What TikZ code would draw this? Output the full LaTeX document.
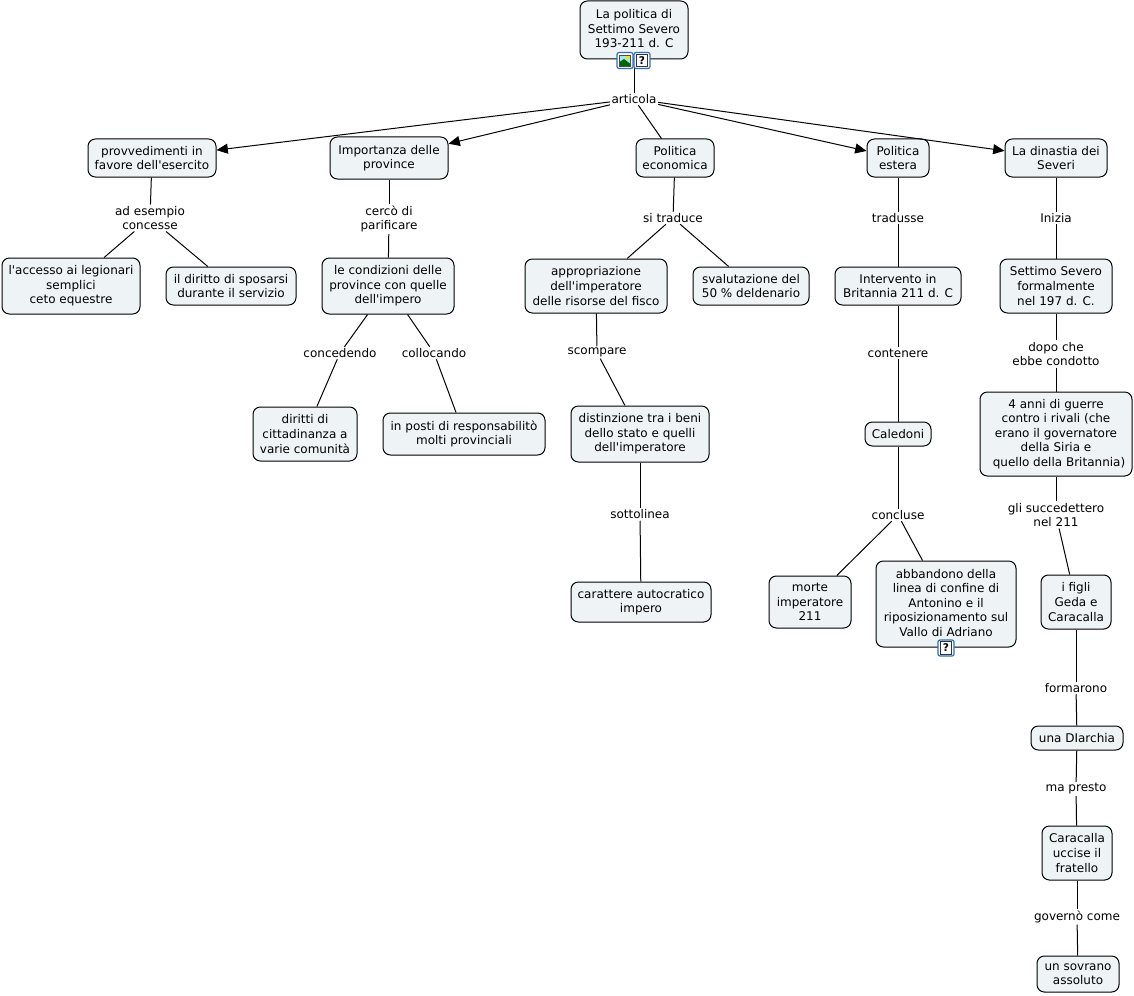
\documentclass[tikz,border=0pt]{standalone}
\usepackage{fontspec}
\setmainfont{DejaVu Sans}[Ligatures=TeXOff]
\usetikzlibrary{arrows.meta}
\definecolor{boxfill}{HTML}{EEF4F6}
\definecolor{iconblue}{HTML}{2F6FC0}
\tikzset{
  x=0.75pt,y=-0.75pt,
  concept/.style={draw=black,line width=0.75pt,fill=boxfill,rounded corners=5.5pt,inner sep=0pt,align=center,font=\fontsize{9}{10.9}\selectfont},
  linklabel/.style={inner sep=1pt,align=center,font=\fontsize{9}{10.9}\selectfont},
  link/.style={draw=black,line width=0.75pt},
  arrowlink/.style={link,-{Triangle[length=8.5pt,width=7.5pt]}},
  iconbox/.style={draw=iconblue,line width=0.9pt,fill=white,rounded corners=1.5pt,minimum width=12pt,minimum height=12pt,inner sep=0pt},
  iconpage/.style={draw=black!80,line width=0.5pt,fill=white,minimum width=8pt,minimum height=9.5pt,inner sep=0pt,font=\fontsize{8}{8}\bfseries\selectfont}
}
% #1 name, #2 x1, #3 y1, #4 x2, #5 y2, #6 text
\newcommand{\cbox}[6]{%
  \pgfmathsetmacro{\cx}{(#2+#4)/2}\pgfmathsetmacro{\cy}{(#3+#5)/2}%
  \pgfmathsetmacro{\cw}{(#4-#2)*0.75}\pgfmathsetmacro{\ch}{(#5-#3)*0.75}%
  \node[concept,minimum width=\cw pt,minimum height=\ch pt] (#1) at (\cx,\cy) {#6};}
\begin{document}
\begin{tikzpicture}
\useasboundingbox (0,0) rectangle (1134,995);
\fill[white] (0,0) rectangle (1134,995);
% link labels first, so connectors can refer to them
\node[linklabel] (Larticola) at (634,99) {articola};
\node[linklabel] (Lad) at (150,218) {ad esempio\\concesse};
\node[linklabel] (Lcerco) at (389,219) {cercò di\\parificare};
\node[linklabel] (Lconc) at (340,353) {concedendo};
\node[linklabel] (Lcoll) at (434,353) {collocando};
\node[linklabel] (Lsi) at (673,218) {si traduce};
\node[linklabel] (Lscomp) at (597,352.5) {scompare};
\node[linklabel] (Lsott) at (640,514.5) {sottolinea};
\node[linklabel] (Ltrad) at (898,218) {tradusse};
\node[linklabel] (Lcont) at (898,353) {contenere};
\node[linklabel] (Lconcl) at (898,515) {concluse};
\node[linklabel] (Lini) at (1056,218) {Inizia};
\node[linklabel] (Ldopo) at (1056,354) {dopo che\\ebbe condotto};
\node[linklabel] (Lgli) at (1056,515) {gli succedettero\\nel 211};
\node[linklabel] (Lform) at (1076,688) {formarono};
\node[linklabel] (Lma) at (1076,789) {ma presto};
\node[linklabel] (Lgov) at (1077,917) {governò come};
% concepts
\cbox{root}{580}{1}{688}{59}{La politica di\\Settimo Severo\\193-211 d. C\\[-9pt]\mbox{}}
\cbox{prov}{88}{139}{216}{177}{provvedimenti in\\favore dell'esercito}
\cbox{imp}{330}{137}{448}{179}{Importanza delle\\province}
\cbox{pol}{636}{139}{714}{177}{Politica\\economica}
\cbox{est}{867}{139}{929}{177}{Politica\\estera}
\cbox{din}{1005}{139}{1107}{177}{La dinastia dei\\Severi}
\cbox{acc}{2}{258}{140}{314}{l'accesso ai legionari\\semplici\\ceto equestre}
\cbox{dir}{166}{267}{296}{305}{il diritto di sposarsi\\durante il servizio}
\cbox{cond}{322}{258}{454}{314}{le condizioni delle\\province con quelle\\dell'impero}
\cbox{citt}{253}{407}{357}{461}{diritti di\\cittadinanza a\\varie comunità}
\cbox{posti}{383}{413}{545}{455}{in posti di responsabilitò\\molti provinciali}
\cbox{appr}{525}{259}{667}{313}{appropriazione\\dell'imperatore\\delle risorse del fisco}
\cbox{sval}{693}{267}{809}{305}{svalutazione del\\50 \% deldenario}
\cbox{dist}{571}{406}{709}{462}{distinzione tra i beni\\dello stato e quelli\\dell'imperatore}
\cbox{auto}{571}{582}{711}{622}{carattere autocratico\\impero}
\cbox{interv}{835}{267}{961}{305}{Intervento in\\Britannia 211 d. C}
\cbox{cal}{865}{422}{931}{446}{Caledoni}
\cbox{morte}{769}{576}{851}{628}{morte\\imperatore\\211}
\cbox{abb}{876}{561}{1016}{647}{abbandono della\\linea di confine di\\Antonino e il\\riposizionamento sul\\Vallo di Adriano\\[-9pt]\mbox{}}
\cbox{sett}{1000}{259}{1112}{313}{Settimo Severo\\formalmente\\nel 197 d. C.}
\cbox{anni}{980}{392}{1132}{476}{4 anni di guerre\\contro i rivali (che\\erano il governatore\\della Siria e\\\hspace*{4.5pt}quello della Britannia)}
\cbox{figli}{1041}{575}{1111}{629}{i figli\\Geda e\\Caracalla}
\cbox{diarch}{1031}{726}{1123}{750}{una DIarchia}
\cbox{uccise}{1042}{826}{1112}{880}{Caracalla\\uccise il\\fratello}
\cbox{sovr}{1037}{956}{1119}{992}{un sovrano\\assoluto}
% connectors
\draw[link] (root) -- (Larticola);
\draw[arrowlink] (Larticola) -- (prov);
\draw[arrowlink] (Larticola) -- (imp);
\draw[link] (Larticola) -- (pol);
\draw[arrowlink] (Larticola) -- (est);
\draw[arrowlink] (Larticola) -- (din);
\draw[link] (prov) -- (Lad);
\draw[link] (Lad) -- (acc);
\draw[link] (Lad) -- (dir);
\draw[link] (imp) -- (Lcerco);
\draw[link] (Lcerco) -- (cond);
\draw[link] (cond) -- (Lconc);
\draw[link] (Lconc) -- (citt);
\draw[link] (cond) -- (Lcoll);
\draw[link] (Lcoll) -- (posti);
\draw[link] (pol) -- (Lsi);
\draw[link] (Lsi) -- (appr);
\draw[link] (Lsi) -- (sval);
\draw[link] (appr) -- (Lscomp);
\draw[link] (Lscomp) -- (dist);
\draw[link] (dist) -- (Lsott);
\draw[link] (Lsott) -- (auto);
\draw[link] (est) -- (Ltrad);
\draw[link] (Ltrad) -- (interv);
\draw[link] (interv) -- (Lcont);
\draw[link] (Lcont) -- (cal);
\draw[link] (cal) -- (Lconcl);
\draw[link] (Lconcl) -- (morte);
\draw[link] (Lconcl) -- (abb);
\draw[link] (din) -- (Lini);
\draw[link] (Lini) -- (sett);
\draw[link] (sett) -- (Ldopo);
\draw[link] (Ldopo) -- (anni);
\draw[link] (anni) -- (Lgli);
\draw[link] (Lgli) -- (figli);
\draw[link] (figli) -- (Lform);
\draw[link] (Lform) -- (diarch);
\draw[link] (diarch) -- (Lma);
\draw[link] (Lma) -- (uccise);
\draw[link] (uccise) -- (Lgov);
\draw[link] (Lgov) -- (sovr);
% icons
\node[iconbox] (iconimg) at (625,60.5) {};
\fill[cyan!35!white] (619.5,55) rectangle (630.5,66);
\fill[yellow!85!orange] (627.5,57.5) circle (2);
\fill[green!40!black] (619.5,66) -- (619.5,62) -- (624,59) -- (630.5,64) -- (630.5,66) -- cycle;
\draw[black!70,line width=0.4pt] (619.5,55) rectangle (630.5,66);
\node[iconbox] (iconq) at (642,60.5) {};
\node[iconpage] (pageq) at (642,60.5) {?};
\node[iconbox] (iconqb) at (946,648) {};
\node[iconpage] (pageqb) at (946,648) {?};
\end{tikzpicture}
\end{document}
